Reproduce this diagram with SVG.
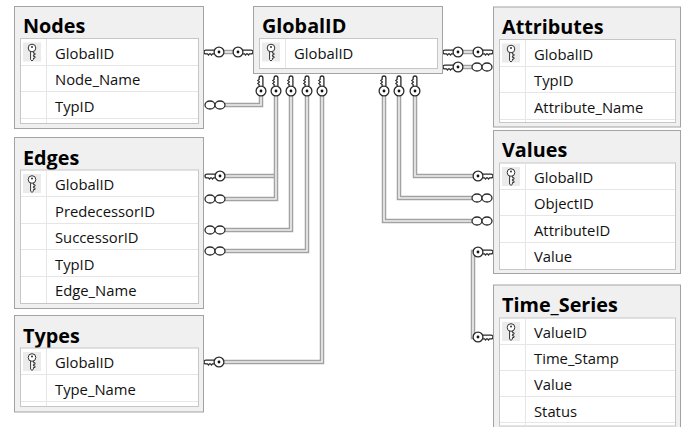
<svg xmlns="http://www.w3.org/2000/svg" xmlns:xlink="http://www.w3.org/1999/xlink" width="686" height="427" viewBox="0 0 686 427">
<style>
.box{fill:#f0f0f0;stroke:#a3a3a3;stroke-width:1}
.inner{fill:#fff;stroke:#c6c6c6;stroke-width:1}
.sep{stroke:#e6e6e6;stroke-width:1;fill:none}
.kbg{fill:#ebebeb}
.title{font-family:"Open Sans","Noto Sans",sans-serif;font-weight:bold;font-size:19.8px;fill:#000}
.col{font-family:"Open Sans","Noto Sans",sans-serif;font-size:14.8px;fill:#111}
.po{fill:none;stroke:#a2a2a2;stroke-width:4.5}
.pi{fill:none;stroke:#efefef;stroke-width:1.6}
.sym{fill:#fff;stroke:#2a2a2a;stroke-width:1.3}
</style>
<defs>
<g id="pk">
<path d="M-1.4,-1 V7.5 L0,9 L1.4,7.5 V6 H3 V4.4 H1.4 V2.8 H3 V1.2 H1.4 V-1" fill="#fff" stroke="#333" stroke-width="1"/>
<circle cx="0" cy="-4" r="3.8" fill="#fff" stroke="#333" stroke-width="1"/>
<circle cx="0" cy="-5" r="1" fill="#333"/>
</g>
<g id="keyL">
<path class="sym" d="M-4.6,-1.9 H-13 Q-15,-1.9 -15,0 Q-15,1.9 -13,1.9 H-11.5 L-10.5,3.1 L-9.5,1.9 H-8.5 L-7.5,3.1 L-6.5,1.9 H-4.6"/>
<circle class="sym" cx="0" cy="0" r="4.9"/>
<circle cx="0" cy="0" r="1.4" fill="#111"/>
</g>
<g id="keyR"><use xlink:href="#keyL" transform="scale(-1,1)"/></g>
<g id="keyU"><use xlink:href="#keyL" transform="rotate(90)"/></g>
<g id="inf">
<ellipse class="sym" cx="-5" cy="0" rx="5" ry="4"/>
<ellipse class="sym" cx="5" cy="0" rx="5" ry="4"/>
</g>
</defs>
<rect width="686" height="427" fill="#fff"/>

<g id="connectors">
<g id="pipes">
<path class="po" d="M219,52 H238"/><path class="pi" d="M219,52 H238"/>
<path class="po" d="M458,52 H478"/><path class="pi" d="M458,52 H478"/>
<path class="po" d="M458,67 H477"/><path class="pi" d="M458,67 H477"/>
<path class="po" d="M225,105 H261 V91"/><path class="pi" d="M225,105 H261 V91"/>
<path class="po" d="M220,176 H276"/><path class="pi" d="M220,176 H276"/>
<path class="po" d="M225,199 H276 V91"/><path class="pi" d="M225,199 H276 V91"/>
<path class="po" d="M225,230 H291 V91"/><path class="pi" d="M225,230 H291 V91"/>
<path class="po" d="M225,251 H307 V91"/><path class="pi" d="M225,251 H307 V91"/>
<path class="po" d="M219,362 H322 V91"/><path class="pi" d="M219,362 H322 V91"/>
<path class="po" d="M478,176 H415 V91"/><path class="pi" d="M478,176 H415 V91"/>
<path class="po" d="M472,198 H399 V91"/><path class="pi" d="M472,198 H399 V91"/>
<path class="po" d="M472,221 H384 V91"/><path class="pi" d="M472,221 H384 V91"/>
<path class="po" d="M478,252 H473 V337 H478"/><path class="pi" d="M478,252 H473 V337 H478"/>
</g>
<g id="ends">
<use xlink:href="#keyL" x="219" y="52"/>
<use xlink:href="#keyR" x="238" y="52"/>
<use xlink:href="#keyL" x="458" y="52"/>
<use xlink:href="#keyR" x="478" y="52"/>
<use xlink:href="#keyL" x="458" y="67"/>
<use xlink:href="#inf" x="482" y="67"/>
<use xlink:href="#inf" x="215" y="105"/>
<use xlink:href="#keyL" x="220" y="176"/>
<use xlink:href="#inf" x="215" y="199"/>
<use xlink:href="#inf" x="215" y="230"/>
<use xlink:href="#inf" x="215" y="251"/>
<use xlink:href="#keyL" x="219" y="362"/>
<use xlink:href="#keyR" x="478" y="176"/>
<use xlink:href="#inf" x="482" y="198"/>
<use xlink:href="#inf" x="482" y="221"/>
<use xlink:href="#keyR" x="478" y="252"/>
<use xlink:href="#keyR" x="478" y="337"/>
<use xlink:href="#keyU" x="261" y="91"/>
<use xlink:href="#keyU" x="276" y="91"/>
<use xlink:href="#keyU" x="291" y="91"/>
<use xlink:href="#keyU" x="307" y="91"/>
<use xlink:href="#keyU" x="322" y="91"/>
<use xlink:href="#keyU" x="384" y="91"/>
<use xlink:href="#keyU" x="399" y="91"/>
<use xlink:href="#keyU" x="415" y="91"/>
</g>
</g>

<g id="Nodes">
<rect class="box" x="14.5" y="6.5" width="189" height="122"/>
<text class="title" x="23" y="33.3">Nodes</text>
<rect class="inner" x="20.5" y="38.5" width="178" height="85"/>
<path class="sep" d="M21,65.5 H198 M21,91.5 H198 M21,118.5 H198 M46.5,39 V123"/>
<rect class="kbg" x="23" y="42.5" width="18" height="19"/>
<use xlink:href="#pk" x="32" y="52"/>
<text class="col" x="55" y="58.5">GlobalID</text>
<text class="col" x="55" y="85.1">Node_Name</text>
<text class="col" x="55" y="111.7">TypID</text>
</g>

<g id="GlobalID">
<rect class="box" x="253.5" y="6.5" width="189" height="67"/>
<text class="title" x="262" y="33.3">GlobalID</text>
<rect class="inner" x="259.5" y="38.5" width="178" height="30"/>
<path class="sep" d="M285.5,39 V68"/>
<rect class="kbg" x="262" y="42.5" width="18" height="19"/>
<use xlink:href="#pk" x="271" y="52"/>
<text class="col" x="294" y="58.5">GlobalID</text>
</g>

<g id="Attributes">
<rect class="box" x="493.5" y="7" width="187" height="120"/>
<text class="title" x="502" y="34">Attributes</text>
<rect class="inner" x="499.5" y="39.5" width="176" height="83"/>
<path class="sep" d="M500,66.5 H675 M500,92.5 H675 M500,119.5 H675 M525.5,40 V122"/>
<rect class="kbg" x="502" y="43.5" width="18" height="19"/>
<use xlink:href="#pk" x="511" y="53"/>
<text class="col" x="534" y="59.5">GlobalID</text>
<text class="col" x="534" y="86.1">TypID</text>
<text class="col" x="534" y="112.7">Attribute_Name</text>
</g>

<g id="Edges">
<rect class="box" x="14.5" y="137.5" width="189" height="171"/>
<text class="title" x="23" y="165">Edges</text>
<rect class="inner" x="20.5" y="170" width="178" height="133.5"/>
<path class="sep" d="M21,196.5 H198 M21,223.5 H198 M21,249.5 H198 M21,276.5 H198 M46.5,170.5 V303"/>
<rect class="kbg" x="23" y="174" width="18" height="19"/>
<use xlink:href="#pk" x="32" y="183.5"/>
<text class="col" x="55" y="190">GlobalID</text>
<text class="col" x="55" y="216.6">PredecessorID</text>
<text class="col" x="55" y="243.2">SuccessorID</text>
<text class="col" x="55" y="269.8">TypID</text>
<text class="col" x="55" y="296.4">Edge_Name</text>
</g>

<g id="Types">
<rect class="box" x="14.5" y="315.5" width="189" height="96.5"/>
<text class="title" x="23" y="343">Types</text>
<rect class="inner" x="20.5" y="348" width="178" height="58.5"/>
<path class="sep" d="M21,374.5 H198 M21,401.5 H198 M46.5,348.5 V406"/>
<rect class="kbg" x="23" y="352" width="18" height="19"/>
<use xlink:href="#pk" x="32" y="361.5"/>
<text class="col" x="55" y="368">GlobalID</text>
<text class="col" x="55" y="394.6">Type_Name</text>
</g>

<g id="Values">
<rect class="box" x="493.5" y="130.5" width="187" height="143"/>
<text class="title" x="502" y="157">Values</text>
<rect class="inner" x="499.5" y="163" width="176" height="106.5"/>
<path class="sep" d="M500,189.5 H675 M500,215.5 H675 M500,242.5 H675 M525.5,163.5 V269"/>
<rect class="kbg" x="502" y="167" width="18" height="19"/>
<use xlink:href="#pk" x="511" y="176.5"/>
<text class="col" x="534" y="183">GlobalID</text>
<text class="col" x="534" y="209.4">ObjectID</text>
<text class="col" x="534" y="235.8">AttributeID</text>
<text class="col" x="534" y="262.2">Value</text>
</g>

<g id="Time_Series">
<rect class="box" x="493.5" y="285" width="187" height="148"/>
<text class="title" x="502" y="312">Time_Series</text>
<rect class="inner" x="499.5" y="318" width="176" height="108"/>
<path class="sep" d="M500,344.5 H675 M500,370.5 H675 M500,396.5 H675 M500,422.5 H675 M525.5,318.5 V426"/>
<rect class="kbg" x="502" y="322" width="18" height="19"/>
<use xlink:href="#pk" x="511" y="331.5"/>
<text class="col" x="534" y="338">ValueID</text>
<text class="col" x="534" y="364.2">Time_Stamp</text>
<text class="col" x="534" y="390.4">Value</text>
<text class="col" x="534" y="416.6">Status</text>
</g>
</svg>
